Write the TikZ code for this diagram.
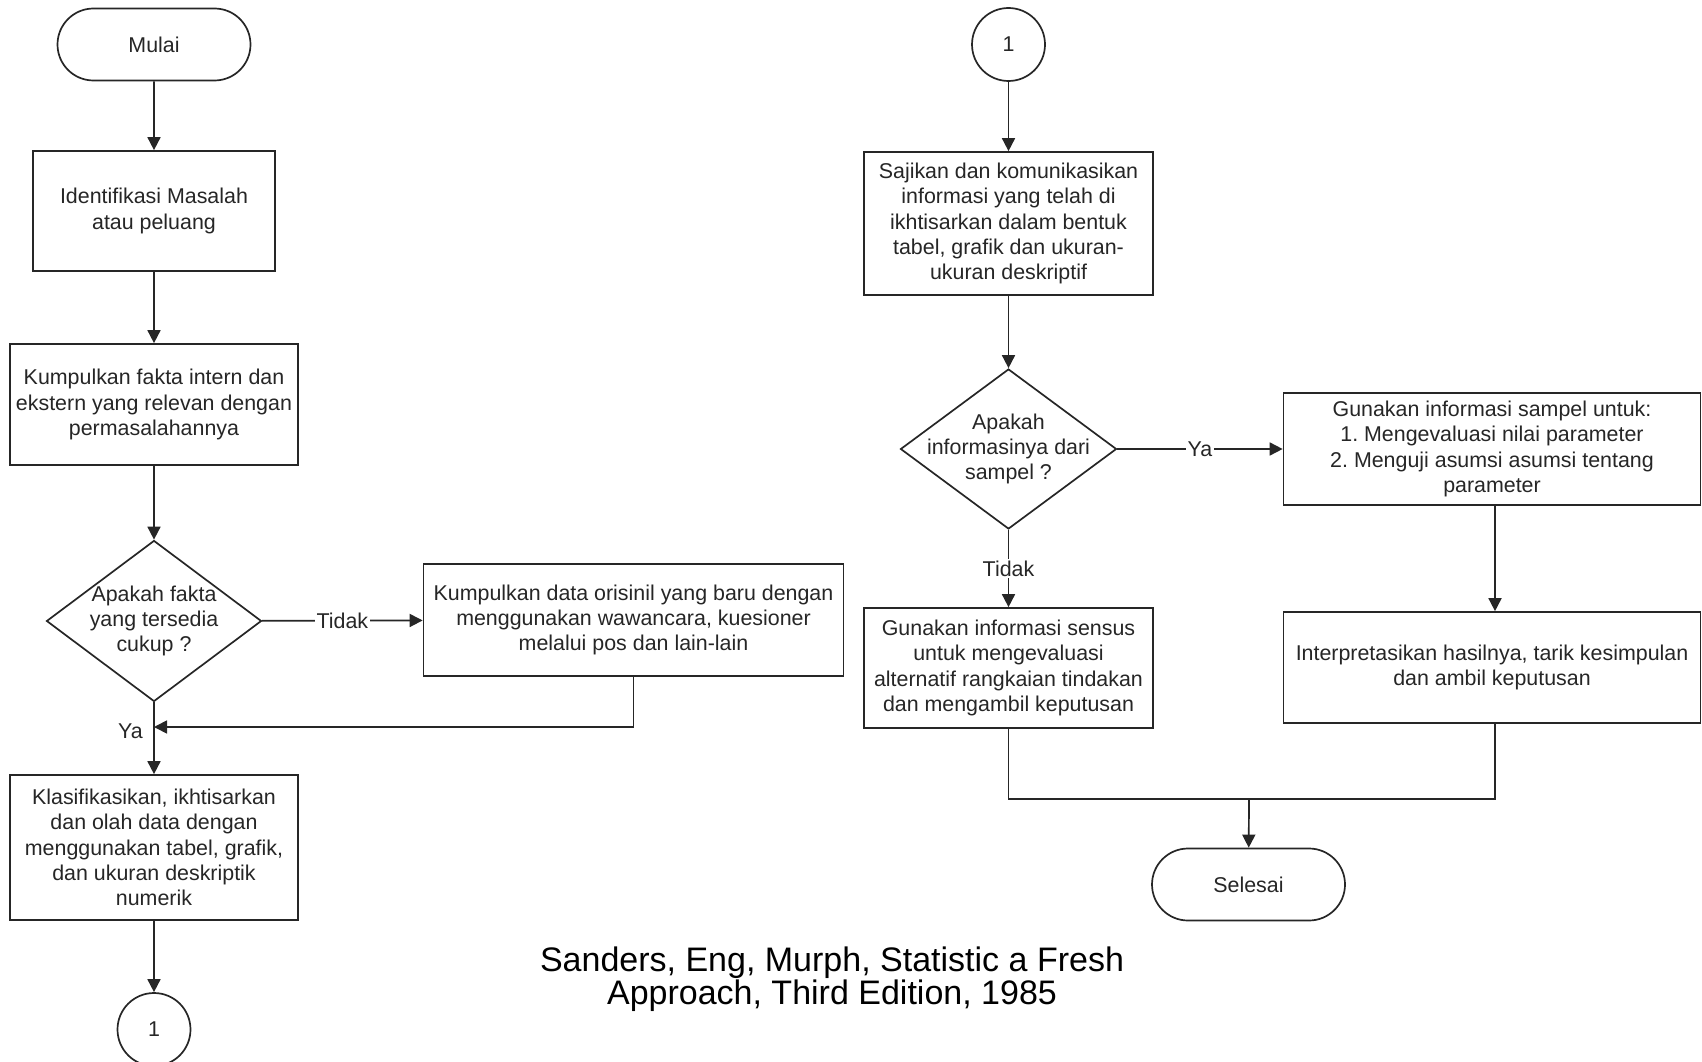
\documentclass[tikz,border=0pt]{standalone}
\usepackage{fontspec}
\setmainfont{Liberation Sans}
\frenchspacing
\usetikzlibrary{shapes.geometric,shapes.misc,arrows.meta,positioning}

\begin{document}
\begin{tikzpicture}[x=1pt,y=-1pt,
  garis/.style={line width=1.7pt, draw=black!85},
  teks/.style={align=center, font=\fontsize{21.4}{25.3}\selectfont, text=black!85, inner sep=0pt},
  proses/.style={garis, teks, rectangle, fill=white},
  terminal/.style={garis, teks, rounded rectangle, fill=white, minimum width=193pt, minimum height=72pt},
  penghubung/.style={garis, teks, circle, fill=white, minimum size=73pt},
  keputusan/.style={garis, diamond, fill=white, minimum width=215pt, minimum height=161pt, inner sep=0pt},
  lbl/.style={teks, fill=white, inner sep=1.5pt},
  arr/.style={garis, -{Triangle[length=13pt,width=13pt]}}]
\useasboundingbox (0,0) rectangle (1702,1062);

% kolom kiri
\node[terminal] (mulai) at (154,44.5) {Mulai};
\node[proses, minimum width=242pt, minimum height=120pt] (ident) at (154,211) {Identifikasi Masalah\\atau peluang};
\node[proses, minimum width=288pt, minimum height=121pt] (fakta) at (154,404.5) {Kumpulkan fakta intern dan\\ekstern yang relevan dengan\\permasalahannya};
\node[keputusan, label={[teks]center:{Apakah fakta\\yang tersedia\\cukup ?}}] (cukup) at (154,621) {};
\node[proses, minimum width=420pt, minimum height=112pt] (data) at (633.5,620) {Kumpulkan data orisinil yang baru dengan\\menggunakan wawancara, kuesioner\\melalui pos dan lain-lain};
\node[proses, minimum width=288pt, minimum height=145pt] (klas) at (154,847.5) {Klasifikasikan, ikhtisarkan\\dan olah data dengan\\menggunakan tabel, grafik,\\dan ukuran deskriptik\\numerik};
\node[penghubung] (hubA) at (154,1029.5) {1};

\foreach \a/\b in {mulai/ident, ident/fakta, fakta/cukup, cukup/klas, klas/hubA}
  \draw[arr] (\a) -- (\b);

\draw[arr] (cukup) -- node[lbl] {Tidak} (data);
\coordinate (gabungA) at (154,727);
\draw[arr] (data.south) |- (gabungA);
\node[teks, anchor=east] (ya1) at (143,731) {Ya};

% kolom kanan
\node[penghubung] (hubB) at (1008.5,44.5) {1};
\node[proses, minimum width=289pt, minimum height=143pt] (sajikan) at (1008.5,223.5) {Sajikan dan komunikasikan\\informasi yang telah di\\ikhtisarkan dalam bentuk\\tabel, grafik dan ukuran-\\ukuran deskriptif};
\node[keputusan, minimum width=216pt, minimum height=160pt, label={[teks]center:{Apakah\\informasinya dari\\sampel ?}}] (sampel) at (1008.5,449) {};
\node[proses, minimum width=417pt, minimum height=112pt] (infsampel) at (1492,449) {Gunakan informasi sampel untuk:\\1. Mengevaluasi nilai parameter\\2. Menguji asumsi asumsi tentang\\parameter};
\node[proses, minimum width=289pt, minimum height=120pt] (sensus) at (1008.5,668) {Gunakan informasi sensus\\untuk mengevaluasi\\alternatif rangkaian tindakan\\dan mengambil keputusan};
\node[proses, minimum width=417pt, minimum height=111pt] (interp) at (1492,667.5) {Interpretasikan hasilnya, tarik kesimpulan\\dan ambil keputusan};
\node[terminal] (selesai) at (1248.5,884.5) {Selesai};

\draw[arr] (hubB) -- (sajikan);
\draw[arr] (sajikan) -- (sampel);
\draw[arr] (sampel) -- node[lbl] {Ya} (infsampel);
\draw[arr] (sampel) -- node[lbl] {Tidak} (sensus);
\draw[arr] (infsampel.south -| 1495,0) -- (interp.north -| 1495,0);
\coordinate (gabungB) at (1249,799);
\draw[garis] (sensus.south) |- (gabungB) -| (interp.south -| 1495,0);
\draw[arr] (gabungB) -- (selesai);

\node[align=center, font=\fontsize{34}{32.5}\selectfont, inner sep=0pt] (sumber) at (832,979) {Sanders, Eng, Murph, Statistic a Fresh\\Approach, Third Edition, 1985};
\end{tikzpicture}
\end{document}
